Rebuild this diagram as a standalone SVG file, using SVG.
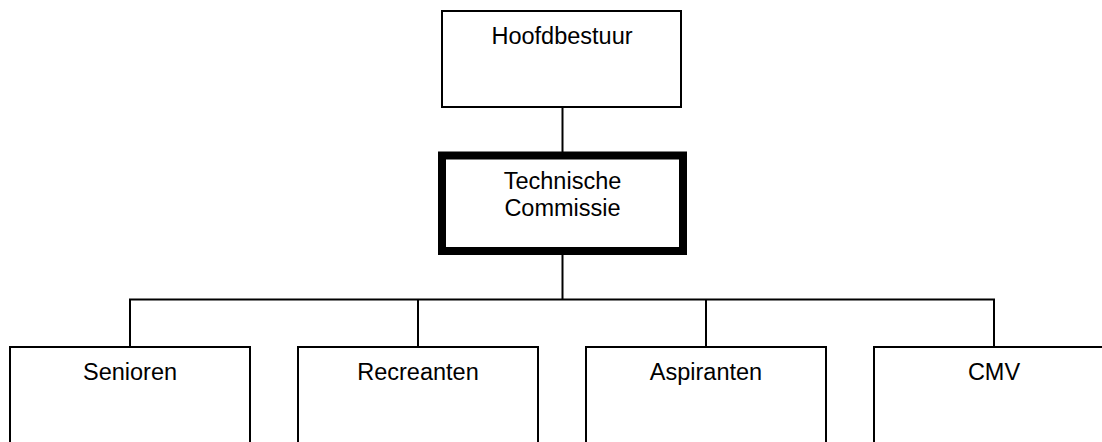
<svg xmlns="http://www.w3.org/2000/svg" width="1102" height="442" viewBox="0 0 1102 442">
<style>
.box{fill:#fff;stroke:#000;stroke-width:2}
.thick{fill:#fff;stroke:#000;stroke-width:8}
.lbl{font-family:"Liberation Sans",Arial,sans-serif;font-size:23.5px;fill:#000;text-anchor:middle}
.conn{fill:none;stroke:#000;stroke-width:2}
</style>
<rect width="1102" height="442" fill="#fff"/>
<g id="connectors">
<line class="conn" x1="562.5" y1="107" x2="562.5" y2="152"/>
<line class="conn" x1="562.5" y1="255" x2="562.5" y2="299.5"/>
<polyline class="conn" points="130,347 130,299.5 994,299.5 994,347"/>
<line class="conn" x1="418" y1="299.5" x2="418" y2="347"/>
<line class="conn" x1="706" y1="299.5" x2="706" y2="347"/>
</g>
<g id="hoofdbestuur">
<rect class="box" x="442" y="11" width="239" height="96"/>
<text class="lbl" x="562" y="44">Hoofdbestuur</text>
</g>
<g id="technische-commissie">
<rect class="thick" x="442" y="155.5" width="241" height="95.5"/>
<text class="lbl" x="562.5" y="189">Technische</text>
<text class="lbl" x="562.5" y="216">Commissie</text>
</g>
<g id="senioren">
<rect class="box" x="10" y="347" width="240" height="110"/>
<text class="lbl" x="130" y="380">Senioren</text>
</g>
<g id="recreanten">
<rect class="box" x="298" y="347" width="240" height="110"/>
<text class="lbl" x="418" y="380">Recreanten</text>
</g>
<g id="aspiranten">
<rect class="box" x="586" y="347" width="240" height="110"/>
<text class="lbl" x="706" y="380">Aspiranten</text>
</g>
<g id="cmv">
<rect class="box" x="874" y="347" width="240" height="110"/>
<text class="lbl" x="994" y="380">CMV</text>
</g>
</svg>
